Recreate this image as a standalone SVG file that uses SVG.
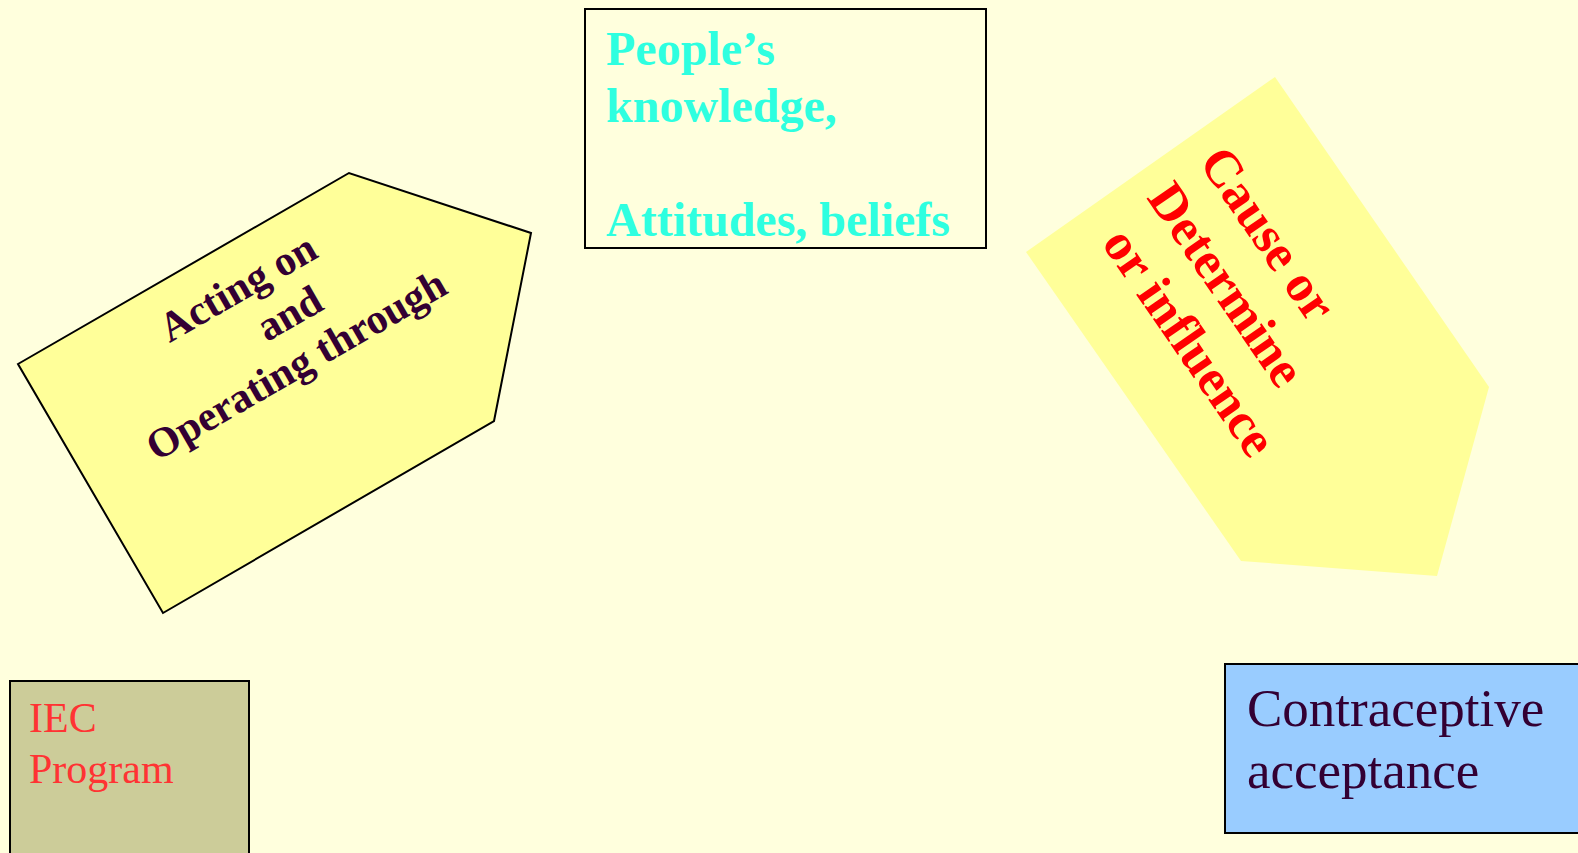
<svg xmlns="http://www.w3.org/2000/svg" width="1578" height="853" viewBox="0 0 1578 853">
<style>
.bold{font-family:"Liberation Serif","Times New Roman",serif;font-weight:bold}
.reg{font-family:"Liberation Serif","Times New Roman",serif}
.box{stroke:#000;stroke-width:2}
</style>
<rect x="0" y="0" width="1578" height="853" fill="#FFFFDD"/>
<g id="node-knowledge">
<rect class="box" x="585" y="9" width="401" height="239" fill="#FFFFDD"/>
<text class="bold" font-size="48" fill="#2EFFE0" x="606"><tspan x="606" y="65">People’s</tspan><tspan x="606" y="122">knowledge,</tspan><tspan x="606" y="236">Attitudes, beliefs</tspan></text>
</g>
<g id="node-acting">
<polygon class="box" points="18,364 349,173 531,233 494,421 163,613" fill="#FFFF99"/>
<g transform="rotate(-30)">
<text class="bold" font-size="42" fill="#330033" text-anchor="middle"><tspan x="62" y="382">Acting on</tspan><tspan x="94" y="430">and</tspan><tspan x="74" y="478">Operating through</tspan></text>
</g>
</g>
<g id="node-cause">
<polygon points="1275,77 1489,387 1437,576 1241,561 1026,252" fill="#FFFF99"/>
<g transform="translate(1198,162) rotate(55.5)">
<text class="bold" font-size="52" fill="#FF0000"><tspan x="0" y="0">Cause or</tspan><tspan x="0" y="63">Determine</tspan><tspan x="12" y="126">or influence</tspan></text>
</g>
</g>
<g id="node-iec">
<rect class="box" x="10" y="681" width="239" height="180" fill="#CCCC99"/>
<text class="reg" font-size="42" fill="#FF3333"><tspan x="29" y="732">IEC</tspan><tspan x="29" y="783">Program</tspan></text>
</g>
<g id="node-contraceptive">
<rect class="box" x="1225" y="664" width="360" height="169" fill="#99CCFF"/>
<text class="reg" font-size="53" fill="#330033"><tspan x="1247" y="726">Contraceptive</tspan><tspan x="1247" y="788">acceptance</tspan></text>
</g>
<g id="connectors"></g>
</svg>
